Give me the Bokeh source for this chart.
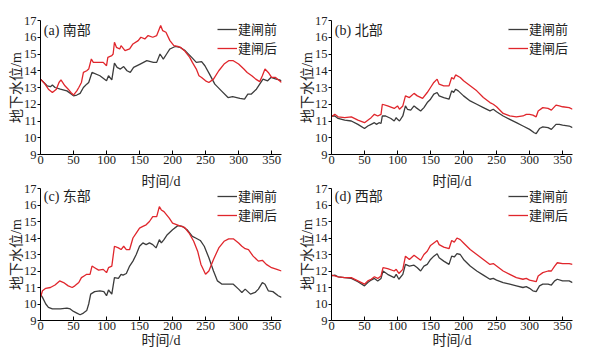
from bokeh.plotting import figure
from bokeh.layouts import gridplot
from bokeh.models import Label, Legend, LegendItem, FixedTicker
from bokeh.embed import file_html
from bokeh.resources import INLINE

# ---- data (day, groundwater level m) ----
A_BEFORE = [(0,13.5),(5,13.3),(10,13.1),(15,13.05),(18,13.15),(22,13.0),(30,12.9),(40,12.8),(47,12.6),(50,12.5),
            (55,12.55),(60,12.65),(65,13.0),(70,13.2),(73,13.3),(78,13.9),(90,13.7),(100,13.4),(103,13.7),(108,13.45),
            (112,14.45),(116,14.2),(121,14.1),(126,14.25),(131,14.0),(136,13.9),(141,14.2),(151,14.4),(161,14.6),(171,14.5),
            (176,14.5),(181,15.0),(186,14.7),(191,15.0),(196,15.3),(204,15.45),(211,15.4),(219,15.2),(229,14.8),(236,14.5),
            (244,14.55),(249,14.3),(256,13.8),(264,13.2),(274,12.8),(284,12.4),(291,12.45),(302,12.35),(309,12.3),(314,12.6),
            (319,12.6),(327,12.9),(337,13.5),(344,13.4),(349,13.6),(357,13.5),(362,13.45),(365,13.4)]
A_AFTER = [(0,13.5),(5,13.3),(12,12.9),(18,12.7),(24,12.9),(28,13.3),(31,13.45),(37,13.1),(42,12.9),(46,12.7),
           (50,12.55),(55,12.8),(58,13.0),(62,13.3),(65,13.9),(70,14.0),(73,14.1),(77,14.7),(80,14.5),(90,14.5),
           (95,14.5),(100,14.3),(102,14.8),(108,14.9),(110,15.0),(112,15.7),(115,15.4),(120,15.3),(122,15.5),(128,15.2),
           (135,15.3),(140,15.6),(148,15.8),(152,16.0),(158,15.9),(163,16.1),(170,16.0),(176,16.1),(182,16.7),(185,16.4),
           (190,16.3),(196,15.8),(202,15.5),(208,15.45),(212,15.4),(218,15.2),(226,14.8),(230,14.5),(236,14.1),(240,13.7),
           (244,13.6),(250,13.4),(255,13.3),(262,13.5),(270,14.0),(278,14.4),(285,14.6),(292,14.6),(300,14.4),(308,14.1),
           (313,13.9),(320,13.7),(326,13.5),(332,13.35),(336,13.7),(340,14.1),(345,13.9),(350,13.6),(356,13.6),(362,13.4),(365,13.3)]

B_BEFORE = [(0,11.3),(5,11.3),(10,11.15),(20,11.05),(30,11.0),(40,10.8),(50,10.55),(55,10.7),(60,10.8),(65,10.9),
            (68,10.8),(72,10.9),(75,10.85),(77,11.3),(82,11.3),(90,11.15),(95,11.0),(98,11.2),(100,11.1),(103,11.0),
            (108,11.3),(112,11.9),(115,11.7),(120,11.65),(125,11.9),(128,11.8),(135,11.6),(140,11.8),(145,12.1),(150,12.3),
            (155,12.6),(160,12.7),(163,12.5),(170,12.4),(178,12.3),(182,12.8),(185,12.7),(188,12.9),(192,12.8),(200,12.5),
            (210,12.2),(220,12.0),(230,11.8),(240,11.6),(245,11.7),(250,11.55),(260,11.3),(270,11.1),(280,10.9),(290,10.7),
            (300,10.5),(307,10.3),(310,10.25),(315,10.55),(320,10.65),(328,10.6),(333,10.5),(340,10.8),(345,10.8),(350,10.75),
            (360,10.7),(365,10.6)]
B_AFTER = [(0,11.25),(5,11.4),(10,11.25),(20,11.2),(30,11.25),(40,11.05),(50,10.9),(55,11.05),(60,11.2),(65,11.4),
           (70,11.3),(75,11.4),(77,12.0),(85,11.9),(95,11.75),(100,11.9),(103,11.7),(108,11.9),(112,12.5),(118,12.4),
           (125,12.65),(130,12.5),(138,12.35),(145,12.7),(150,13.0),(155,13.3),(160,13.5),(163,13.2),(170,13.1),(178,13.1),
           (182,13.6),(185,13.5),(188,13.75),(195,13.6),(200,13.4),(210,13.1),(220,12.8),(230,12.4),(240,12.1),(245,12.0),
           (250,11.85),(260,11.45),(270,11.3),(280,11.25),(290,11.3),(295,11.4),(300,11.4),(305,11.35),(310,11.25),(313,11.6),
           (320,11.8),(328,11.75),(333,11.65),(340,11.95),(345,11.9),(350,11.85),(360,11.8),(365,11.7)]

C_BEFORE = [(0,10.6),(3,10.4),(8,10.0),(12,9.8),(18,9.7),(30,9.7),(40,9.75),(45,9.7),(50,9.55),(55,9.45),
            (60,9.35),(65,9.45),(70,9.6),(73,10.0),(76,10.6),(82,10.75),(90,10.8),(96,10.75),(100,10.5),(103,10.85),
            (108,10.6),(112,11.6),(118,11.55),(122,11.8),(125,11.75),(130,11.85),(135,12.3),(140,12.6),(145,13.0),(150,13.5),
            (155,13.7),(160,13.6),(165,13.7),(170,13.6),(175,13.4),(180,13.9),(183,13.7),(187,13.9),(192,14.2),(200,14.5),
            (208,14.75),(215,14.7),(222,14.5),(230,14.1),(235,14.0),(242,13.85),(248,13.5),(255,12.8),(262,12.0),(268,11.4),
            (275,11.2),(285,11.2),(292,11.2),(300,10.9),(305,10.7),(310,10.9),(318,10.6),(325,10.7),(330,10.9),(336,11.3),
            (340,11.2),(345,10.8),(352,10.75),(360,10.5),(365,10.4)]
C_AFTER = [(0,10.4),(3,10.8),(8,10.95),(15,11.0),(22,11.15),(29,11.4),(35,11.3),(42,11.1),(48,11.0),(52,11.1),
           (58,11.3),(62,11.6),(66,11.7),(70,11.8),(75,11.8),(78,12.3),(82,12.2),(88,12.05),(95,12.1),(100,11.9),
           (103,12.2),(108,12.3),(112,13.5),(118,13.4),(122,13.3),(126,13.5),(130,13.3),(135,13.3),(140,14.0),(145,14.3),
           (150,14.6),(155,14.7),(160,14.8),(165,15.0),(170,15.3),(176,15.3),(180,15.9),(183,15.7),(187,15.6),(195,15.2),
           (200,14.9),(210,14.75),(218,14.65),(225,14.3),(232,13.8),(238,13.2),(243,12.4),(250,11.8),(255,12.0),(262,12.7),
           (270,13.4),(278,13.8),(285,13.95),(292,13.95),(300,13.7),(305,13.5),(310,13.35),(315,13.3),(322,12.9),(330,12.6),
           (336,12.65),(342,12.4),(350,12.2),(358,12.1),(365,12.0)]

D_BEFORE = [(0,11.7),(5,11.75),(10,11.65),(20,11.6),(30,11.55),(40,11.35),(50,11.1),(55,11.3),(60,11.45),(65,11.55),
            (70,11.4),(75,11.55),(78,12.0),(85,11.8),(95,11.6),(98,11.8),(102,11.5),(108,11.8),(112,12.4),(118,12.3),
            (125,12.35),(130,12.2),(135,12.0),(140,12.3),(145,12.4),(150,12.7),(155,12.9),(160,13.05),(163,12.8),(170,12.6),
            (178,12.4),(182,12.9),(186,12.85),(190,13.05),(195,13.0),(200,12.7),(210,12.3),(220,12.0),(230,11.75),(240,11.5),
            (245,11.55),(250,11.45),(260,11.3),(270,11.2),(280,11.1),(290,11.0),(295,11.05),(300,10.95),(305,10.8),(310,10.75),
            (315,11.1),(320,11.2),(328,11.2),(333,11.15),(338,11.4),(342,11.5),(350,11.4),(360,11.4),(365,11.3)]
D_AFTER = [(0,11.75),(5,11.7),(10,11.65),(20,11.6),(30,11.6),(40,11.4),(50,11.2),(55,11.4),(60,11.5),(65,11.65),
           (70,11.55),(75,11.7),(78,12.2),(85,12.15),(95,12.0),(98,12.1),(102,11.85),(108,12.1),(112,12.9),(118,12.7),
           (125,12.95),(130,12.8),(135,12.65),(140,13.0),(145,13.2),(150,13.55),(155,13.7),(160,13.85),(163,13.6),(170,13.45),
           (178,13.35),(182,13.85),(186,13.75),(190,14.0),(195,13.9),(200,13.7),(210,13.3),(220,13.0),(230,12.7),(240,12.4),
           (245,12.45),(250,12.3),(260,12.0),(270,11.8),(280,11.6),(290,11.5),(295,11.55),(300,11.45),(305,11.4),(310,11.35),
           (313,11.7),(320,11.9),(328,12.0),(333,12.0),(338,12.3),(342,12.5),(350,12.45),(360,12.45),(365,12.4)]

PANEL_TITLES = ["(a) 南部", "(b) 北部", "(c) 东部", "(d) 西部"]
SERIES_NAMES = ["建闸前", "建闸后"]
X_TICKS = [0, 50, 100, 150, 200, 250, 300, 350]
Y_TICKS = [9, 10, 11, 12, 13, 14, 15, 16, 17]
X_LABEL = "时间/d"
Y_LABEL = "地下水位/m"

FONT = "'Liberation Serif', 'Times New Roman', 'Noto Sans CJK SC', serif"
BLACK = "#3c3c3c"
RED = "#e0262c"
TXT = "#222222"


def make_panel(title, before, after, fh, bt, bb, title_y, leg_y, own_xlabel, upper_xlabel):
    p = figure(frame_width=241, frame_height=fh, x_range=(0, 365), y_range=(9, 17),
               output_backend="svg", toolbar_location=None,
               title=(X_LABEL if upper_xlabel else None),
               min_border_left=40, min_border_right=10, min_border_top=bt, min_border_bottom=bb)
    p.outline_line_color = None
    p.xgrid.visible = False
    p.ygrid.visible = False
    p.background_fill_color = None
    p.border_fill_color = None

    if upper_xlabel:
        # x-axis title of the panel above, placed in this figure's top margin
        p.title.align = "center"
        p.title.text_font = FONT
        p.title.text_font_size = "14px"
        p.title.text_font_style = "normal"
        p.title.text_color = TXT
        p.title.standoff = 0
        p.title.offset = 0

    bx, by = zip(*before)
    ax, ay = zip(*after)
    r1 = p.line(list(bx), list(by), line_color=BLACK, line_width=1.3)
    r2 = p.line(list(ax), list(ay), line_color=RED, line_width=1.3)

    for ax_ in (p.xaxis[0], p.yaxis[0]):
        ax_.axis_line_color = "#000000"
        ax_.axis_line_width = 1
        ax_.major_tick_line_color = "#000000"
        ax_.minor_tick_line_color = None
        ax_.major_label_text_font = FONT
        ax_.major_label_text_font_size = "12.5px"
        ax_.major_label_text_color = TXT
        ax_.axis_label_text_font = FONT
        ax_.axis_label_text_font_size = "14px"
        ax_.axis_label_text_font_style = "normal"
        ax_.axis_label_text_color = TXT
    p.xaxis.ticker = FixedTicker(ticks=X_TICKS)
    p.yaxis.ticker = FixedTicker(ticks=Y_TICKS)
    p.xaxis.major_tick_in = 4
    p.xaxis.major_tick_out = 0
    p.yaxis.major_tick_in = 0
    p.yaxis.major_tick_out = 3
    p.xaxis.major_label_standoff = 1
    p.yaxis.major_label_standoff = 1
    if own_xlabel:
        p.xaxis.axis_label = X_LABEL
        p.xaxis.axis_label_standoff = 0
    p.yaxis.axis_label = Y_LABEL
    p.yaxis.axis_label_standoff = -3

    leg = Legend(items=[LegendItem(label=SERIES_NAMES[0], renderers=[r1]),
                        LegendItem(label=SERIES_NAMES[1], renderers=[r2])],
                 location=(177, leg_y))
    leg.border_line_color = None
    leg.background_fill_alpha = 0
    leg.label_text_font = FONT
    leg.label_text_font_size = "13px"
    leg.label_text_color = TXT
    leg.glyph_width = 20
    leg.glyph_height = 14
    leg.label_height = 14
    leg.label_standoff = 1
    leg.spacing = 0
    leg.padding = 0
    leg.margin = 0
    p.add_layout(leg)

    p.add_layout(Label(x=5, y=title_y, text=title, text_font=FONT, text_font_size="14px",
                       text_color=TXT, text_baseline="middle"))
    return p


pa = make_panel(PANEL_TITLES[0], A_BEFORE, A_AFTER, 134, 20, 17, 16.4, 97, False, False)
pb = make_panel(PANEL_TITLES[1], B_BEFORE, B_AFTER, 134, 20, 17, 16.4, 97, False, False)
pc = make_panel(PANEL_TITLES[2], C_BEFORE, C_AFTER, 132, 17, 34, 16.5, 96, True, True)
pd = make_panel(PANEL_TITLES[3], D_BEFORE, D_AFTER, 132, 17, 34, 16.5, 96, True, True)

grid = gridplot([[pa, pb], [pc, pd]], toolbar_location=None)

open("out.html", "w").write(file_html(grid, INLINE))
